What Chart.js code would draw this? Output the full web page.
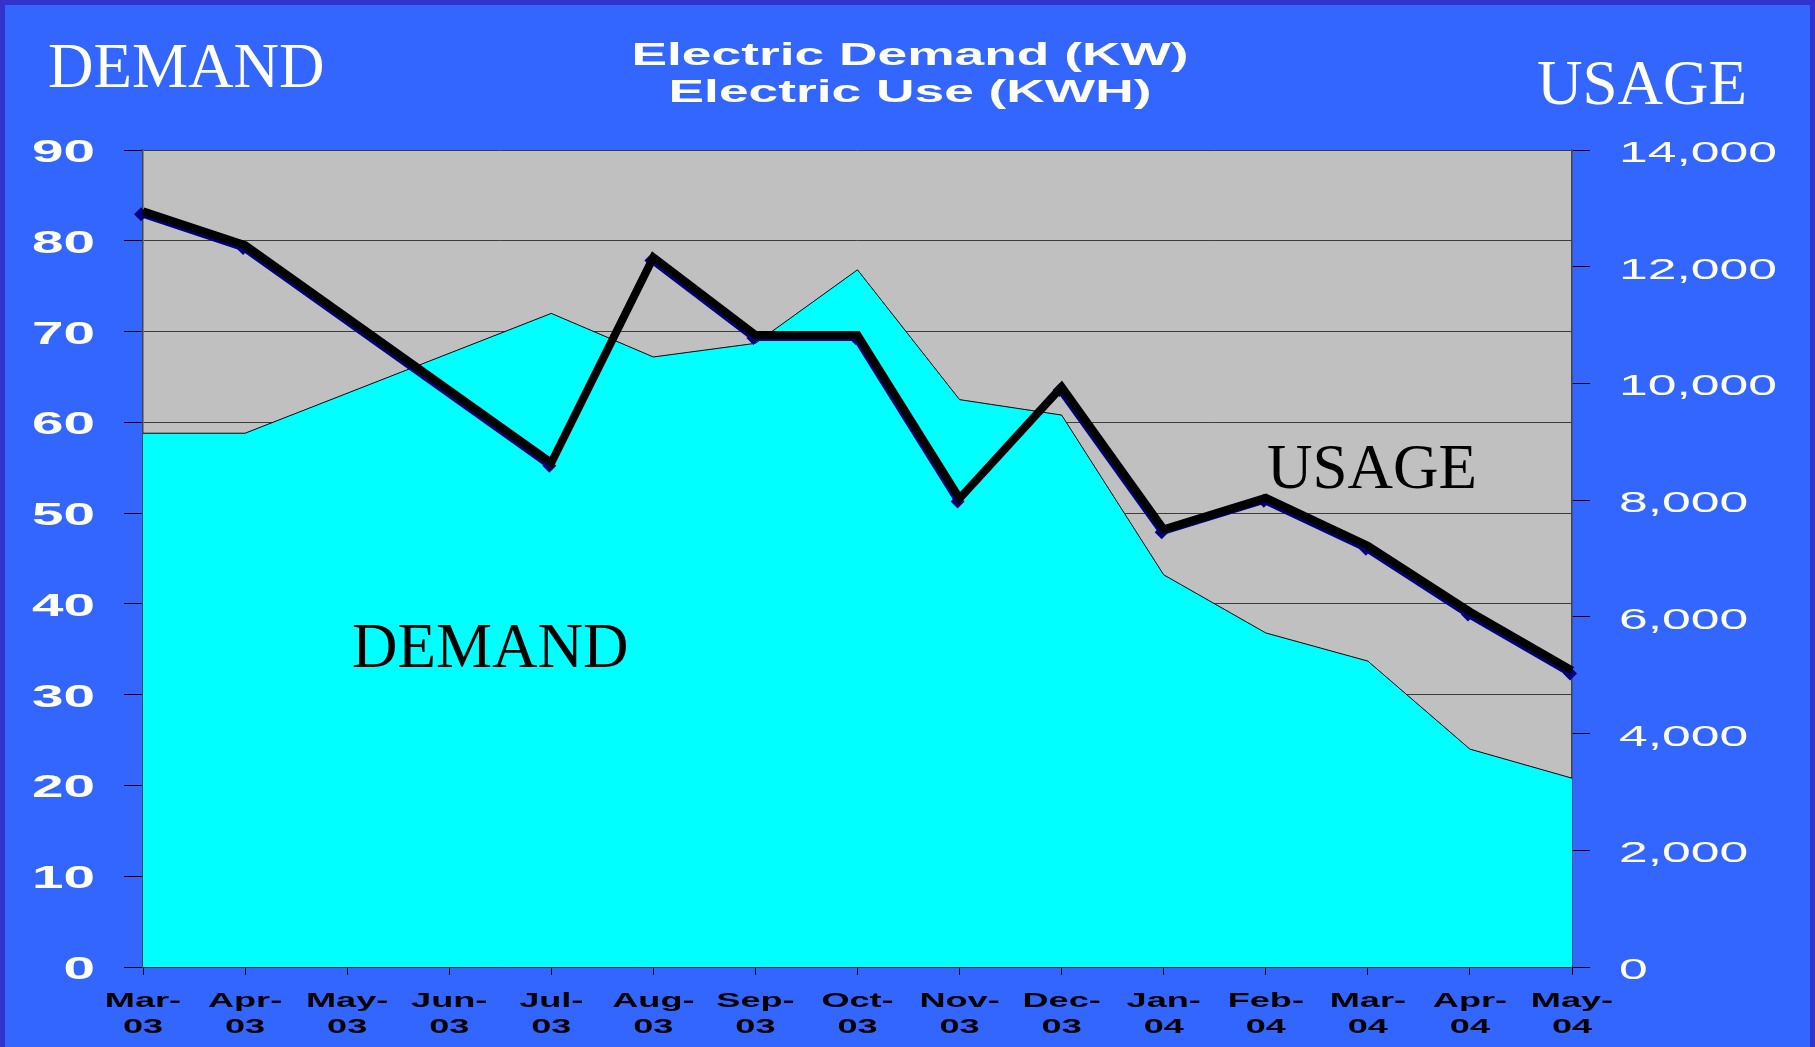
<!DOCTYPE html>
<html>
<head>
<meta charset="utf-8">
<script src="https://cdn.jsdelivr.net/npm/chart.js@4.4.1/dist/chart.umd.min.js"></script>
<style>
  html, body { margin: 0; padding: 0; background: #3366FF; overflow: hidden; }
  #wrap { position: relative; width: 1815px; height: 1047px; }
  canvas { position: absolute; left: 0; top: 0; }
  .lbl { position: absolute; font-family: "Liberation Serif", "Times New Roman", serif; font-size: 63px; line-height: 63px; white-space: nowrap; }
  .titulo { position: absolute; left: 0; width: 1820px; text-align: center; color: #fff;
            font-family: "Liberation Sans", Arial, sans-serif; font-weight: bold; font-size: 31px; line-height: 31px;
            transform: scaleX(1.72); transform-origin: 910px 0; white-space: nowrap; }
</style>
</head>
<body>
<div id="wrap">
  <canvas id="grafica" width="1815" height="1047"></canvas>
  <div class="titulo" style="top:39px">Electric Demand (KW)</div>
  <div class="titulo" style="top:76px">Electric Use (KWH)</div>
  <div class="lbl" style="left:48px; top:35px; color:#fff">DEMAND</div>
  <div class="lbl" style="left:1537px; top:52px; color:#fff">USAGE</div>
  <div class="lbl" style="left:352px; top:615px; color:#000">DEMAND</div>
  <div class="lbl" style="left:1267px; top:436px; color:#000">USAGE</div>
</div>
<script>
// Meses (dos renglones por etiqueta)
const meses = [
  ['Mar-', '03'], ['Apr-', '03'], ['May-', '03'], ['Jun-', '03'], ['Jul-', '03'],
  ['Aug-', '03'], ['Sep-', '03'], ['Oct-', '03'], ['Nov-', '03'], ['Dec-', '03'],
  ['Jan-', '04'], ['Feb-', '04'], ['Mar-', '04'], ['Apr-', '04'], ['May-', '04']
];

// Demanda en KW (eje izquierdo) - May-03 y Jun-03 sin dato
const demanda = [58.8, 58.8, null, null, 72.0, 67.2, 68.7, 76.8, 62.5, 60.8, 43.2, 36.8, 33.7, 24.0, 20.8];

// Uso en KWH (eje derecho) - May-03 y Jun-03 sin dato
const uso = [12950, 12370, null, null, 8640, 12160, 10830, 10830, 8030, 9940, 7500, 8040, 7220, 6090, 5080];

// Rangos de los ejes
const ticksDemanda = { min: 0, max: 90, paso: 10 };
const ticksUso = { min: 0, max: 14000, paso: 2000 };

const COLORES = {
    fondo: '#3366FF',
    marco: '#3333CC',
    area: '#00FFFF',
    plot: '#C0C0C0',
    marino: '#000080',
    negro: '#000000'
};

// Texto estirado horizontalmente (como en la diapositiva original)
function textoEstirado(ctx, txt, x, y, sx) {
    ctx.save();
    ctx.translate(x, y);
    ctx.scale(sx, 1);
    ctx.fillText(txt, 0, 0);
    ctx.restore();
}

const pluginFondo = {
    id: 'fondo',
    beforeDraw(chart) {
        const { ctx, width, height, chartArea: a } = chart;
        ctx.save();
        ctx.fillStyle = COLORES.marco;
        ctx.fillRect(0, 0, width, height);
        ctx.fillStyle = COLORES.fondo;
        ctx.fillRect(5, 5, width - 10, height - 5);
        ctx.fillStyle = COLORES.plot;
        ctx.fillRect(a.left, a.top, a.right - a.left, a.bottom - a.top);
        ctx.restore();
    },
    // sombra azul marino desplazada de la serie de uso
    beforeDatasetDraw(chart, args) {
        if (args.index === 1) {
            chart.ctx.save();
            chart.ctx.translate(-2, 3);
        }
    },
    afterDatasetDraw(chart, args) {
        if (args.index === 1) chart.ctx.restore();
    }
};

const pluginEtiquetas = {
    id: 'etiquetas',
    afterDraw(chart) {
        const ctx = chart.ctx;
        const { x, y, y1 } = chart.scales;
        ctx.save();
        ctx.textBaseline = 'alphabetic';

        // eje izquierdo
        ctx.fillStyle = '#ffffff';
        ctx.font = 'bold 32px "Liberation Sans", Arial, sans-serif';
        ctx.textAlign = 'right';
        y.ticks.forEach((t, i) => {
            textoEstirado(ctx, String(t.value), y.right - 48, y.getPixelForTick(i) + 12, 1.77);
        });

        // eje derecho
        ctx.font = '29px "Liberation Sans", Arial, sans-serif';
        ctx.textAlign = 'left';
        y1.ticks.forEach((t, i) => {
            textoEstirado(ctx, t.value.toLocaleString('en-US'), y1.left + 47, y1.getPixelForTick(i) + 12, 1.78);
        });

        // eje de meses
        ctx.fillStyle = '#000000';
        ctx.font = 'bold 21px "Liberation Sans", Arial, sans-serif';
        ctx.textAlign = 'center';
        meses.forEach((m, i) => {
            const px = x.getPixelForTick(i);
            textoEstirado(ctx, m[0], px, x.top + 40, 1.72);
            textoEstirado(ctx, m[1], px, x.top + 66, 1.72);
        });
        ctx.restore();
    }
};

new Chart(document.getElementById('grafica').getContext('2d'), {
    type: 'line',
    data: {
        labels: meses,
        datasets: [{
            label: 'Demand (KW)',
            data: demanda,
            yAxisID: 'y',
            fill: 'origin',
            spanGaps: true,
            backgroundColor: COLORES.area,
            borderColor: COLORES.negro,
            borderWidth: 1,
            pointRadius: 0,
            tension: 0,
            order: 3
        }, {
            label: 'Use (KWH) sombra',
            data: uso,
            yAxisID: 'y1',
            spanGaps: true,
            borderColor: COLORES.marino,
            borderWidth: 6,
            pointStyle: 'rectRot',
            pointRadius: 7,
            pointBackgroundColor: COLORES.marino,
            pointBorderWidth: 0,
            tension: 0,
            clip: false,
            order: 2
        }, {
            label: 'Use (KWH)',
            data: uso,
            yAxisID: 'y1',
            spanGaps: true,
            borderColor: COLORES.negro,
            borderWidth: 8,
            borderJoinStyle: 'miter',
            borderCapStyle: 'butt',
            pointRadius: 0,
            tension: 0,
            clip: false,
            order: 1
        }]
    },
    options: {
        responsive: false,
        devicePixelRatio: 1,
        animation: false,
        layout: { padding: { top: 150, left: 0, right: 0, bottom: 0 } },
        plugins: {
            legend: { display: false },
            title: { display: false },
            tooltip: { enabled: false }
        },
        scales: {
            x: {
                offset: false,
                grid: { drawOnChartArea: false, drawTicks: true, tickLength: 8, tickColor: '#000', lineWidth: 1 },
                border: { display: true, color: '#000', width: 1.5 },
                ticks: { color: 'transparent', autoSkip: false, maxRotation: 0 },
                afterFit: s => { s.height = 80; }
            },
            y: {
                position: 'left',
                min: ticksDemanda.min,
                max: ticksDemanda.max,
                grid: { color: '#3c3c3c', lineWidth: 1, tickLength: 19, tickColor: '#000' },
                border: { display: true, color: '#444', width: 1.5 },
                ticks: { stepSize: ticksDemanda.paso, color: 'transparent' },
                afterFit: s => { s.width = 143; }
            },
            y1: {
                position: 'right',
                min: ticksUso.min,
                max: ticksUso.max,
                grid: { drawOnChartArea: false, tickLength: 18, tickColor: '#000' },
                border: { display: true, color: '#444', width: 1.5 },
                ticks: { stepSize: ticksUso.paso, color: 'transparent' },
                afterFit: s => { s.width = 243; }
            }
        }
    },
    plugins: [pluginFondo, pluginEtiquetas]
});
</script>
</body>
</html>
